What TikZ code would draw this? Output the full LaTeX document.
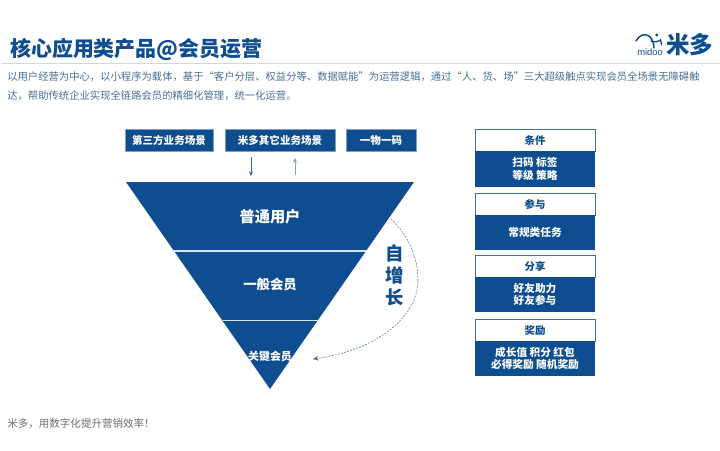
\documentclass[tikz,border=0pt]{standalone}
\usepackage{fontspec}
\setmainfont{Noto Sans CJK SC}
\setsansfont{Liberation Sans}
\usetikzlibrary{arrows.meta}
\definecolor{mblue}{HTML}{0E4D8F}
\definecolor{mtext}{HTML}{4A6F96}
\definecolor{mline}{HTML}{D5D8DB}
\definecolor{mgrey}{HTML}{6E6E6E}
\definecolor{mlight}{HTML}{7F9FC0}
\tikzset{
  x=0.75pt,y=-0.75pt,
  bluebox/.style={fill=mblue,draw=mlight,line width=0.4pt,text=white,font=\fontsize{7.9}{9.2}\selectfont\bfseries,align=center,inner sep=0pt,minimum height=16.5pt},
  headbox/.style={fill=white,draw=mblue!80!white,line width=0.6pt,text=mblue,font=\fontsize{7.8}{9}\selectfont\bfseries,inner sep=0pt,minimum width=90pt,minimum height=16.5pt},
  bodybox/.style={fill=mblue,text=white,font=\fontsize{8}{9.2}\selectfont\bfseries,align=center,inner sep=0pt,minimum width=90pt},
  funnel/.style={fill=mblue,draw=none},
  funneltext/.style={text=white,font=\bfseries,inner sep=0pt},
  para/.style={text=mtext,font=\fontsize{7.75}{11}\selectfont,anchor=west,inner sep=0pt},
  flow/.style={-{Stealth[length=3.5pt,width=3pt]},line width=0.45pt},
}
\begin{document}
\begin{tikzpicture}
\useasboundingbox (0,0) rectangle (720,450);
\fill[white] (0,0) rectangle (720,450);
% title
\node[anchor=west,inner sep=0pt,text=mblue,font=\fontsize{15.7}{18}\selectfont\bfseries] (title) at (10,49.5) {核心应用类产品@会员运营};
\draw[mline,line width=0.6pt] (1,63.5) -- (720,63.5);
% logo
\draw[mblue,line width=1.1pt,line cap=round] (636,41) .. controls (639,35) and (645,33) .. (649,36) .. controls (652,38) and (654,43) .. (654,48);
\draw[mblue,line width=1pt,line cap=round] (651,41) .. controls (655,43) and (659,41) .. (660.5,40) -- (661.7,44.7);
\fill[mblue] (656.7,35) circle (1.6);
\node[anchor=west,inner sep=0pt,text=mblue,font=\fontsize{7}{8}\selectfont\sffamily] (midoo) at (637,52.5) {midoo};
\node[anchor=west,inner sep=0pt,text=mblue,font=\fontsize{17.6}{20}\selectfont\bfseries] (mido) at (666,44.5) {米多};
% paragraph
\node[para] (p1) at (7,76.5) {以用户经营为中心，以小程序为载体，基于“客户分层、权益分等、数据赋能”为运营逻辑，通过“人、货、场”三大超级触点实现会员全场景无障碍触};
\node[para] (p2) at (7,96) {达，帮助传统企业实现全链路会员的精细化管理，统一化运营。};
% top boxes
\node[bluebox,minimum width=66pt] (b1) at (169,140) {第三方业务场景};
\node[bluebox,minimum width=82.5pt] (b2) at (280,140) {米多其它业务场景};
\node[bluebox,minimum width=52.5pt] (b3) at (381,140) {一物一码};
% funnel
\fill[funnel] (126,182) -- (414,182) -- (270,389) -- cycle;
\draw[white!85!mblue,line width=0.8pt] (173,251) -- (367,251);
\draw[white!85!mblue,line width=0.8pt] (222.5,320.5) -- (317.5,320.5);
\node[funneltext,font=\fontsize{11.4}{13}\selectfont\bfseries] (u1) at (270,216.5) {普通用户};
\node[funneltext,font=\fontsize{10}{12}\selectfont\bfseries] (u2) at (270,284.5) {一般会员};
\node[funneltext,font=\fontsize{8.2}{10}\selectfont\bfseries] (u3) at (270,356) {关键会员};
% vertical arrows
\coordinate (a1s) at (251,157); \coordinate (a1e) at (251,176);
\coordinate (a2s) at (295,175); \coordinate (a2e) at (295,158);
\draw[flow,mblue!85!white] (a1s) -- (a1e);
\draw[flow,mlight] (a2s) -- (a2e);
% self growth
\node[text=mblue,font=\fontsize{13.8}{16.5}\selectfont\bfseries,align=center,inner sep=0pt] (grow) at (395,275.5) {自\\增\\长};
\coordinate (cs) at (391,219); \coordinate (cm) at (418,280); \coordinate (ce) at (313,359);
\draw[mtext,dash pattern=on 1.4pt off 1pt,line width=0.4pt] (cs) .. controls (409,236) and (418,258) .. (cm);
\draw[mtext,dash pattern=on 1.4pt off 1pt,line width=0.4pt,-{Stealth[length=4pt,width=3.5pt]}] (cm) .. controls (418,316) and (378,350) .. (ce);
% right cards
\node[headbox,yshift=-0.4pt] (h1) at (535,140) {条件};
\node[bodybox,minimum height=27pt] (c1) at (535,169) {扫码 标签\\等级 策略};
\node[headbox,yshift=-0.4pt] (h2) at (535,204) {参与};
\node[bodybox,minimum height=26.5pt] (c2) at (535,232.5) {常规类任务};
\node[headbox,yshift=-0.4pt] (h3) at (535,266) {分享};
\node[bodybox,minimum height=26.5pt] (c3) at (535,294.5) {好友助力\\好友参与};
\node[headbox,yshift=-0.4pt] (h4) at (535,330) {奖励};
\node[bodybox,minimum height=26.5pt] (c4) at (535,358.5) {成长值 积分 红包\\必得奖励 随机奖励};
% footer
\node[anchor=west,inner sep=0pt,text=mgrey,font=\fontsize{7.9}{10}\selectfont] (foot) at (7,423.5) {米多，用数字化提升营销效率！};
\end{tikzpicture}
\end{document}
